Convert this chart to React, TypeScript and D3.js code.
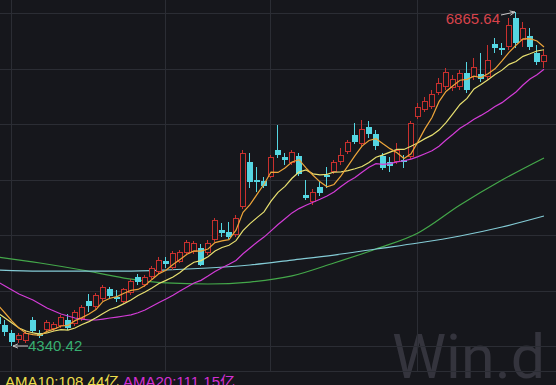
import React from "react";
import * as d3 from "d3";

const W = 556;
const H = 385;

// candle index of first entry (partially clipped at left edge)
const firstIndex = -1;

const opens = [4559, 4499, 4439, 4386, 4378, 4537, 4439, 4461, 4469, 4491, 4537, 4507, 4544, 4680, 4635, 4696, 4771, 4711, 4673, 4741, 4862, 4801, 4862, 4900, 4983, 4930, 4975, 5043, 5051, 5081, 5043, 5142, 5217, 5202, 5179, 5391, 5731, 5595, 5588, 5618, 5822, 5769, 5724, 5777, 5482, 5429, 5542, 5633, 5656, 5731, 5807, 5935, 5867, 5996, 5943, 5777, 5731, 5731, 5746, 5769, 6071, 6124, 6147, 6253, 6298, 6291, 6298, 6404, 6374, 6397, 6374, 6623, 6593, 6601, 6820, 6654, 6684, 6555, 6487];
const highs = [4597, 4537, 4461, 4439, 4454, 4559, 4461, 4537, 4522, 4575, 4582, 4612, 4650, 4733, 4741, 4801, 4786, 4764, 4779, 4847, 4885, 4877, 4945, 5013, 5013, 5058, 5066, 5142, 5134, 5111, 5142, 5308, 5270, 5278, 5331, 5822, 5799, 5693, 5618, 5784, 6011, 5799, 5822, 5799, 5595, 5527, 5580, 5693, 5746, 5837, 5898, 6026, 6049, 6041, 5973, 5799, 5769, 5875, 5784, 6041, 6177, 6223, 6276, 6366, 6442, 6389, 6427, 6487, 6518, 6555, 6616, 6669, 6631, 6820, 6865.64, 6790, 6744, 6616, 6578];
const lows = [4476, 4416, 4340.42, 4363, 4363, 4439, 4401, 4446, 4454, 4476, 4461, 4491, 4529, 4597, 4620, 4680, 4703, 4673, 4665, 4726, 4801, 4786, 4847, 4885, 4930, 4915, 4968, 5028, 5036, 4945, 5028, 5126, 5164, 5149, 5164, 5376, 5535, 5504, 5535, 5610, 5762, 5709, 5709, 5625, 5444, 5406, 5474, 5535, 5641, 5709, 5792, 5867, 5852, 5913, 5822, 5671, 5656, 5716, 5686, 5754, 6056, 6109, 6132, 6238, 6276, 6268, 6276, 6253, 6351, 6336, 6351, 6555, 6540, 6578, 6593, 6601, 6578, 6465, 6442];
const closes = [4507, 4446, 4370, 4423, 4439, 4454, 4416, 4522, 4507, 4559, 4476, 4597, 4635, 4643, 4726, 4786, 4718, 4696, 4771, 4832, 4824, 4862, 4930, 4990, 4960, 5043, 5051, 5126, 5119, 4953, 5119, 5293, 5195, 5164, 5308, 5799, 5580, 5580, 5550, 5769, 5784, 5746, 5807, 5641, 5459, 5504, 5497, 5618, 5731, 5784, 5882, 5882, 5981, 5943, 5852, 5686, 5701, 5822, 5731, 6026, 6147, 6192, 6245, 6329, 6412, 6359, 6404, 6276, 6449, 6359, 6502, 6593, 6578, 6767, 6631, 6744, 6601, 6487, 6540];

// moving-average values (before a full window is available)
const ma5Head = [4650, 4590, 4529, 4476];
const ma10Head = [4590, 4552, 4514, 4476, 4454, 4439, 4431, 4439, 4454];
const ma20Head = [4824, 4794, 4764, 4733, 4711, 4688, 4658, 4628, 4605, 4582, 4567, 4552, 4544, 4537, 4537, 4544, 4552, 4559, 4567];

// long moving averages, read at sampled candle indices
const longIdx = [-1, 5, 11, 17, 23, 29, 35, 41, 47, 53, 59, 65, 71, 77];
const ma60 = [5013, 4968, 4915, 4854, 4817, 4809, 4824, 4870, 4968, 5074, 5195, 5406, 5595, 5762];
const ma120 = [4915, 4907, 4907, 4907, 4915, 4930, 4953, 4990, 5028, 5074, 5119, 5172, 5240, 5323];

// month separators (candle index)
const monthStarts = [1, 23, 38, 59];

const highLabel = "6865.64";
const lowLabel = "4340.42";
const ama10Text = "AMA10:108.44亿";
const ama20Text = "AMA20:111.15亿";
const watermark = "Win.d";

const BG = "#16171c";
const GRID = "#2b2d34";
const UP = "#c8302e";
const DOWN = "#55d6e2";

function movingAvg(period: number, head: number[]) {
  return closes.map((_, k) =>
    k < head.length ? head[k] : (d3.mean(closes.slice(k - period + 1, k + 1)) as number)
  );
}

export default function App() {
  const x = d3.scaleLinear().domain([0, 77]).range([5, 544]);
  const y = d3.scaleLinear().domain([4340.42, 6865.64]).range([346, 12]);

  const idx = closes.map((_, k) => k + firstIndex);
  const ma5 = movingAvg(5, ma5Head);
  const ma10 = movingAvg(10, ma10Head);
  const ma20 = movingAvg(20, ma20Head);

  const lineGen = d3
    .line<[number, number]>()
    .x((d) => x(d[0]))
    .y((d) => y(d[1]));
  const smoothGen = d3
    .line<[number, number]>()
    .x((d) => x(d[0]))
    .y((d) => y(d[1]))
    .curve(d3.curveMonotoneX);

  const pairs = (vals: number[]) => vals.map((v, k) => [idx[k], v] as [number, number]);
  const longPairs = (vals: number[]) => vals.map((v, k) => [longIdx[k], v] as [number, number]);

  const gridYs = d3.range(7).map((k) => Math.round(13 + k * 55.5) + 0.5);

  const hiI = highs.indexOf(d3.max(highs) as number);
  const loI = lows.indexOf(d3.min(lows) as number);
  const hiX = x(idx[hiI]);
  const hiY = y(highs[hiI]);
  const loX = x(idx[loI]);
  const loY = y(lows[loI]);

  const candles = closes.map((c, k) => {
    const i = idx[k];
    const cx = Math.round(x(i));
    const o = opens[k];
    const hY = Math.round(y(highs[k]));
    const lY = Math.round(y(lows[k]));
    const up = c >= o;
    if (up) {
      const top = Math.round(y(c)) + 0.5;
      const bot = Math.max(Math.round(y(o)) - 0.5, top + 1);
      return (
        <g key={k}>
          <line x1={cx - 0.5} x2={cx - 0.5} y1={hY} y2={top - 0.5} stroke={UP} strokeWidth={1} />
          <line x1={cx - 0.5} x2={cx - 0.5} y1={bot + 0.5} y2={lY} stroke={UP} strokeWidth={1} />
          <rect x={cx - 2.5} y={top} width={5} height={bot - top} fill={BG} stroke={UP} strokeWidth={1} />
        </g>
      );
    }
    const top = Math.round(y(o));
    const bot = Math.max(Math.round(y(c)), top + 1);
    return (
      <g key={k}>
        <line x1={cx - 0.5} x2={cx - 0.5} y1={hY} y2={lY} stroke={DOWN} strokeWidth={1} />
        <rect x={cx - 3} y={top} width={6} height={bot - top} fill={DOWN} />
      </g>
    );
  });

  return (
    <svg
      width={W}
      height={H}
      style={{ position: "fixed", left: 0, top: 0, display: "block" }}
      fontFamily="'Liberation Sans', Arial, 'Noto Sans CJK SC', sans-serif"
    >
      <defs>
        <marker id="arrowGrey" viewBox="0 0 8 8" refX="7" refY="4" markerWidth="6" markerHeight="6" orient="auto">
          <path d="M0,1 L7,4 L0,7" fill="none" stroke="#c9c9c9" strokeWidth={1.2} />
        </marker>
        <clipPath id="plot">
          <rect x={0} y={0} width={W} height={371} />
        </clipPath>
      </defs>
      <rect x={0} y={0} width={W} height={H} fill={BG} />
      <text
        x={392}
        y={378}
        fontFamily="Roboto, 'Open Sans', sans-serif"
        fontSize={61}
        fill="#393a43"
        fillOpacity={0.85}
      >
        {watermark}
      </text>
      <g shapeRendering="crispEdges">
        {gridYs.map((gy) => (
          <line key={gy} x1={0} x2={W} y1={gy} y2={gy} stroke={GRID} strokeWidth={1} />
        ))}
        <line x1={0} x2={W} y1={371.5} y2={371.5} stroke={GRID} strokeWidth={1} />
        {monthStarts.map((m) => (
          <line key={m} x1={Math.round(x(m)) - 0.5} x2={Math.round(x(m)) - 0.5} y1={0} y2={371} stroke={GRID} strokeWidth={1} />
        ))}
      </g>
      <g clipPath="url(#plot)">
        <path d={smoothGen(longPairs(ma60)) || ""} fill="none" stroke="#44a84a" strokeWidth={1.2} />
        <path d={smoothGen(longPairs(ma120)) || ""} fill="none" stroke="#84ccd6" strokeWidth={1.2} />
        <g shapeRendering="crispEdges">{candles}</g>
        <path d={lineGen(pairs(ma20)) || ""} fill="none" stroke="#d23cd6" strokeWidth={1.2} />
        <path d={lineGen(pairs(ma10)) || ""} fill="none" stroke="#e8e070" strokeWidth={1.2} />
        <path d={lineGen(pairs(ma5)) || ""} fill="none" stroke="#eda53a" strokeWidth={1.2} />
      </g>
      <line
        x1={hiX - 15}
        y1={hiY + 3}
        x2={hiX - 1}
        y2={hiY}
        stroke="#c9c9c9"
        strokeWidth={1}
        markerEnd="url(#arrowGrey)"
      />
      <text x={hiX - 16} y={24} textAnchor="end" fontSize={15} fill="#d8434b">
        {highLabel}
      </text>
      <line
        x1={loX + 16}
        y1={loY}
        x2={loX + 1}
        y2={loY}
        stroke="#c9c9c9"
        strokeWidth={1}
        markerEnd="url(#arrowGrey)"
      />
      <text x={loX + 16} y={351} fontSize={15} fill="#38ae70">
        {lowLabel}
      </text>
      <text x={5} y={387} fontSize={15} fill="#ecdc4a">
        {ama10Text}
      </text>
      <text x={123} y={387} fontSize={15} fill="#d22fd2">
        {ama20Text}
      </text>
    </svg>
  );
}
